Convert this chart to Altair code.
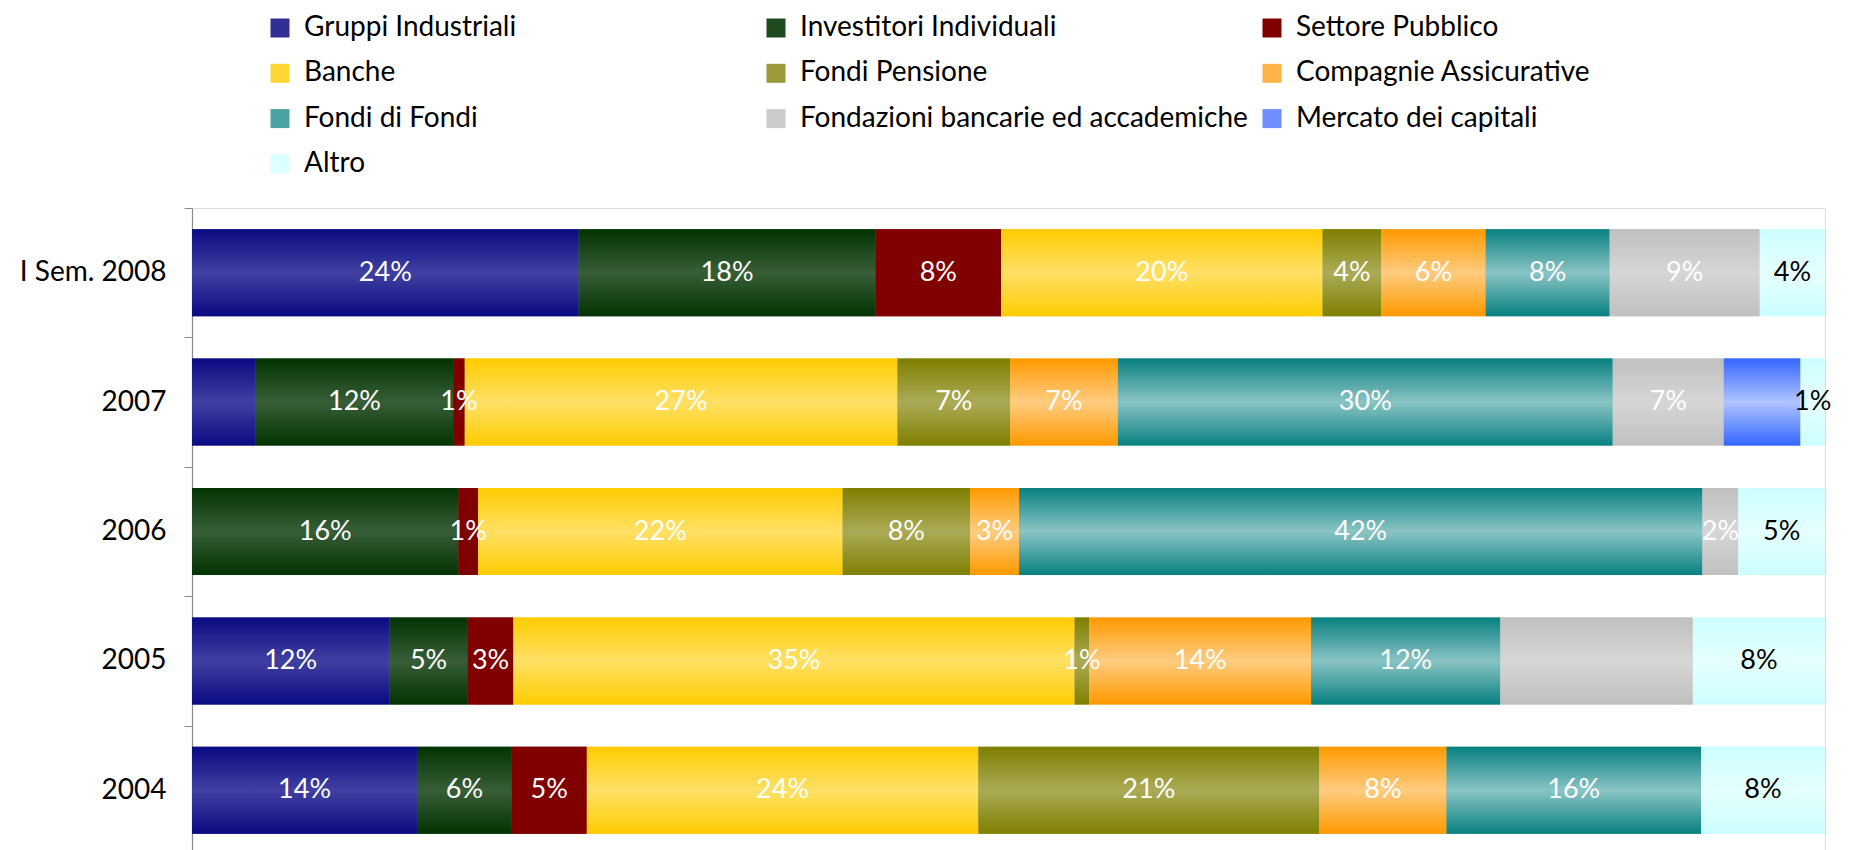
import altair as alt
import pandas as pd

categories = ["I Sem. 2008", "2007", "2006", "2005", "2004"]
series = [
    "Gruppi Industriali", "Investitori Individuali", "Settore Pubblico",
    "Banche", "Fondi Pensione", "Compagnie Assicurative",
    "Fondi di Fondi", "Fondazioni bancarie ed accademiche",
    "Mercato dei capitali", "Altro",
]
# values (%) per series, in the order of categories
v_gruppi = [23.7, 3.9, 0.0, 12.1, 13.8]
v_invest = [18.2, 12.1, 16.3, 4.8, 5.8]
v_settore = [7.7, 0.7, 1.2, 2.8, 4.6]
v_banche = [19.7, 26.5, 22.3, 34.4, 24.0]
v_pensione = [3.6, 6.9, 7.8, 0.9, 20.9]
v_assic = [6.4, 6.6, 3.0, 13.6, 7.8]
v_fdf = [7.6, 30.3, 41.8, 11.6, 15.6]
v_fondaz = [9.2, 6.8, 2.2, 11.8, 0.0]
v_mercato = [0.0, 4.7, 0.0, 0.0, 0.0]
v_altro = [4.0, 1.5, 5.3, 8.1, 7.6]

# displayed labels per series
l_gruppi = ["24%", "", "", "12%", "14%"]
l_invest = ["18%", "12%", "16%", "5%", "6%"]
l_settore = ["8%", "1%", "1%", "3%", "5%"]
l_banche = ["20%", "27%", "22%", "35%", "24%"]
l_pensione = ["4%", "7%", "8%", "1%", "21%"]
l_assic = ["6%", "7%", "3%", "14%", "8%"]
l_fdf = ["8%", "30%", "42%", "12%", "16%"]
l_fondaz = ["9%", "7%", "2%", "", ""]
l_mercato = ["", "", "", "", ""]
l_altro = ["4%", "1%", "5%", "8%", "8%"]

values = [v_gruppi, v_invest, v_settore, v_banche, v_pensione, v_assic,
          v_fdf, v_fondaz, v_mercato, v_altro]
labels = [l_gruppi, l_invest, l_settore, l_banche, l_pensione, l_assic,
          l_fdf, l_fondaz, l_mercato, l_altro]

# colours: (edge, middle) for vertical gradients
edge_colors = ["#0a0a82", "#023302", "#800000", "#ffcc00", "#7f7f00",
               "#ff9900", "#088080", "#c0c0c0", "#3366ff", "#ccffff"]
mid_colors = ["#4040a2", "#385e38", "#800000", "#ffe066", "#abab57",
              "#ffcc80", "#8ac4c4", "#d6d6d6", "#b0c4ff", "#e6ffff"]
legend_colors = ["#2e2e94", "#1e4a1e", "#800000", "#ffd633", "#9a9a3a",
                 "#ffb347", "#4aa2a2", "#cccccc", "#6f8fff", "#dcffff"]

rows = []
for si, s in enumerate(series):
    for ci, c in enumerate(categories):
        rows.append({"category": c, "series": s, "order": si,
                     "value": values[si][ci], "label": labels[si][ci]})
df = pd.DataFrame(rows)

FONT = "Lato"
BAR_BAND = 0.672

base = alt.Chart(df).transform_stack(
    stack="value", groupby=["category"], as_=["x0", "x1"],
    offset="normalize", sort=[alt.SortField("order", order="ascending")]
).transform_calculate(xm="(datum.x0 + datum.x1) / 2")

y_enc = alt.Y(
    "category:N", sort=categories, title=None,
    scale=alt.Scale(paddingInner=0, paddingOuter=0),
    axis=alt.Axis(
        labelFont=FONT, labelFontSize=28, labelColor="#000000",
        domainColor="#8c8c8c", tickColor="#8c8c8c", tickSize=8,
        tickBand="extent", labelPadding=18, minExtent=179, maxExtent=179,
        domainWidth=1.2,
    ),
)
x_scale = alt.Scale(domain=[0, 1], nice=False, zero=True)

solid = base.mark_bar(height=alt.RelativeBandSize(BAR_BAND)).encode(
    y=y_enc,
    x=alt.X("x0:Q", scale=x_scale, axis=None),
    x2="x1:Q",
    color=alt.Color(
        "series:N", sort=series,
        scale=alt.Scale(domain=series, range=legend_colors),
        legend=alt.Legend(
            title=None, orient="none", legendX=74, legendY=-194,
            direction="horizontal",
            columns=3, gridAlign="all", columnPadding=10, rowPadding=17.3,
            symbolType="square", symbolSize=361, symbolStrokeWidth=0,
            labelOffset=10,
            labelFont=FONT, labelFontSize=28, labelColor="#000000",
            labelLimit=700,
        ),
    ),
)

layers = [solid]
for si, s in enumerate(series):
    grad = alt.Gradient(
        gradient="linear",
        stops=[alt.GradientStop(color=edge_colors[si], offset=0),
               alt.GradientStop(color=mid_colors[si], offset=0.5),
               alt.GradientStop(color=edge_colors[si], offset=1)],
        x1=0, x2=0, y1=0, y2=1,
    )
    layers.append(
        base.transform_filter(alt.datum.series == s)
        .mark_bar(fill=grad, height=alt.RelativeBandSize(BAR_BAND))
        .encode(
            y=alt.Y("category:N", sort=categories),
            x=alt.X("x0:Q", scale=x_scale, axis=None),
            x2="x1:Q",
        )
    )

text = base.transform_filter(alt.datum.label != "").mark_text(
    font=FONT, fontSize=27, align="center", baseline="middle"
).encode(
    y=alt.Y("category:N", sort=categories),
    x=alt.X("xm:Q", scale=x_scale, axis=None),
    text="label:N",
    color=alt.condition(alt.datum.series == "Altro",
                        alt.value("#000000"), alt.value("#ffffff")),
)
layers.append(text)

chart = alt.layer(*layers).properties(
    width=1633, height=647,
    padding={"left": 5, "top": 6, "right": 5, "bottom": 0},
).configure_view(stroke=None).configure(background="#ffffff")

chart.save("out.html", embed_options={"renderer": "svg", "actions": False})
